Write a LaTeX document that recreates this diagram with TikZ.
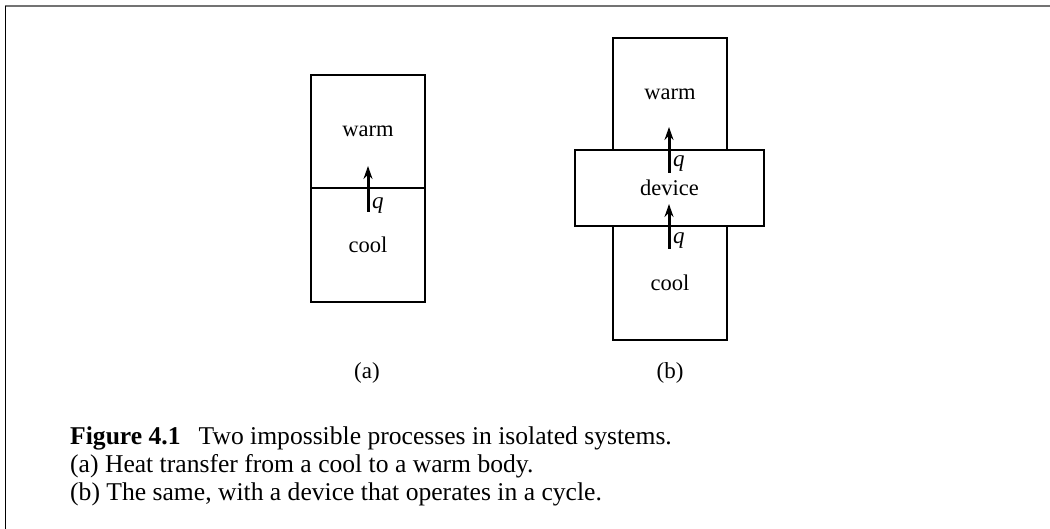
\documentclass[tikz,border=0pt]{standalone}
\usepackage{fontspec}
\setmainfont{Liberation Serif}
\usetikzlibrary{arrows.meta}
\tikzset{
  bx/.style={draw, line width=2.2pt, rectangle, inner sep=0pt, font=\fontsize{22.5}{26}\selectfont},
  heat/.style={line width=3pt, -{Stealth[length=13pt,width=9pt]}},
  qlab/.style={anchor=west, inner sep=0pt, font=\fontsize{23}{26}\selectfont\itshape},
  sub/.style={inner sep=0pt, font=\fontsize{23}{26}\selectfont},
  captxt/.style={anchor=base west, inner sep=0pt, font=\fontsize{25.6}{30}\selectfont},
}
\begin{document}
\begin{tikzpicture}[x=1pt,y=-1pt]
\useasboundingbox (0,0) rectangle (1050,529);
% frame
\draw[line width=2pt, gray!90!black] (5,6) -- (1050,6);
\draw[line width=1.5pt] (5.5,6) -- (5.5,529);
% (a)
\node[bx, minimum width=114pt, minimum height=113pt] (aw) at (368,131.5) {warm};
\node[bx, minimum width=114pt, minimum height=114pt] (ac) at (368,245) {cool};
\coordinate (a1) at (368,212);
\coordinate (a2) at (368,166);
\draw[heat] (a1) -- (a2);
\node[qlab] (aq) at (372,206) {q};
\node[sub] (la) at (367,373) {(a)};
% (b)
\node[bx, minimum width=114pt, minimum height=112pt] (bw) at (670,94) {warm};
\node[bx, minimum width=114pt, minimum height=114pt] (bc) at (670,283) {cool};
\node[bx, fill=white, minimum width=189pt, minimum height=76pt] (bd) at (669.5,188) {device};
\coordinate (b1) at (669,173);
\coordinate (b2) at (669,127);
\coordinate (b3) at (669,249);
\coordinate (b4) at (669,204);
\draw[heat] (b1) -- (b2);
\draw[heat] (b3) -- (b4);
\node[qlab] (bq1) at (673,164) {q};
\node[qlab] (bq2) at (673,241) {q};
\node[sub] (lb) at (670,373) {(b)};
% caption
\node[captxt] (cap1) at (70,444) {\textbf{Figure 4.1}\hspace{18pt}Two impossible processes in isolated systems.};
\node[captxt] (cap2) at (70,472) {(a) Heat transfer from a cool to a warm body.};
\node[captxt] (cap3) at (70,500) {(b) The same, with a device that operates in a cycle.};
\end{tikzpicture}
\end{document}
